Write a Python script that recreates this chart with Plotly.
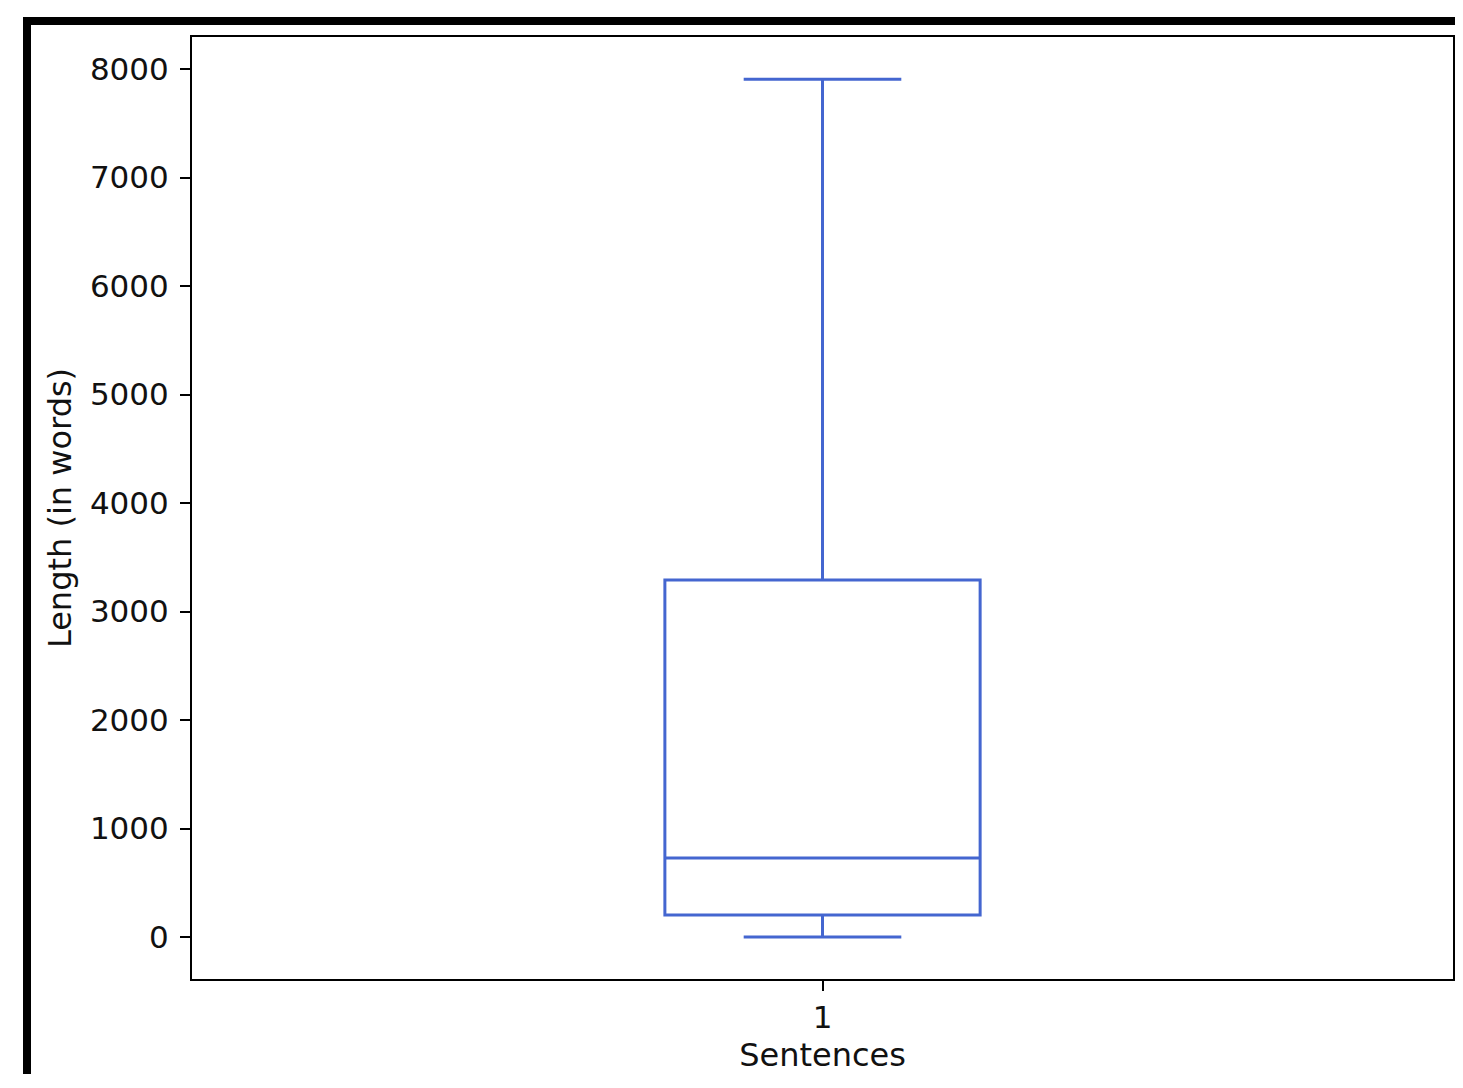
import plotly.graph_objects as go

# Data
categories = [1]
q1_vals = [203]
median_vals = [728]
q3_vals = [3290]
lower_fence = [0]
upper_fence = [7905]
y_tick_vals = [0, 1000, 2000, 3000, 4000, 5000, 6000, 7000, 8000]
y_tick_text = ["0", "1000", "2000", "3000", "4000", "5000", "6000", "7000", "8000"]

OFF = 8  # page body margin offset
W, H = 1447, 1066
L, T = 192 - OFF, 37 - OFF
plot_right, plot_bottom = 1453 - OFF, 979 - OFF
R, B = W - plot_right, H - plot_bottom
pw, ph = W - L - R, H - T - B

def px(x):
    return (x - OFF - L) / pw

def py(y):
    return (H - B - (y - OFF)) / ph

blue = "#4466d0"
font_fam = "DejaVu Sans, Verdana, sans-serif"

fig = go.Figure()
fig.add_trace(go.Box(
    x=categories,
    q1=q1_vals, median=median_vals, q3=q3_vals,
    lowerfence=lower_fence, upperfence=upper_fence,
    width=0.25, whiskerwidth=0.5,
    line=dict(color=blue, width=3),
    fillcolor="rgba(0,0,0,0)",
    boxpoints=False,
    hoverinfo="skip",
))

# screenshot frame bars (black)
fig.add_shape(type="rect", xref="paper", yref="paper",
              x0=px(23), x1=px(1470), y0=py(25), y1=py(17),
              fillcolor="black", line=dict(width=0), layer="above")
fig.add_shape(type="rect", xref="paper", yref="paper",
              x0=px(23), x1=px(31), y0=py(1095), y1=py(17),
              fillcolor="black", line=dict(width=0), layer="above")

fig.update_layout(
    width=W, height=H,
    margin=dict(l=L, r=R, t=T, b=B, autoexpand=False),
    paper_bgcolor="white", plot_bgcolor="white",
    showlegend=False,
    font=dict(family=font_fam, size=31, color="#111111"),
    xaxis=dict(
        range=[0.5, 1.5],
        tickvals=categories, ticktext=["1"],
        ticks="outside", ticklen=10, tickwidth=2, tickcolor="black",
        showline=True, mirror=True, linecolor="black", linewidth=2,
        showgrid=False, zeroline=False,
        tickfont=dict(size=31),
        title=dict(text="Sentences", font=dict(size=32), standoff=12),
        ticklabelstandoff=0,
    ),
    yaxis=dict(
        range=[-387, 8295],
        tickvals=y_tick_vals, ticktext=y_tick_text,
        ticks="outside", ticklen=10, tickwidth=2, tickcolor="black",
        showline=True, mirror=True, linecolor="black", linewidth=2,
        showgrid=False, zeroline=False,
        tickfont=dict(size=31),
        title=dict(text="Length (in words)", font=dict(size=32), standoff=9),
        ticklabelstandoff=5,
    ),
)

fig.write_html("out.html")
